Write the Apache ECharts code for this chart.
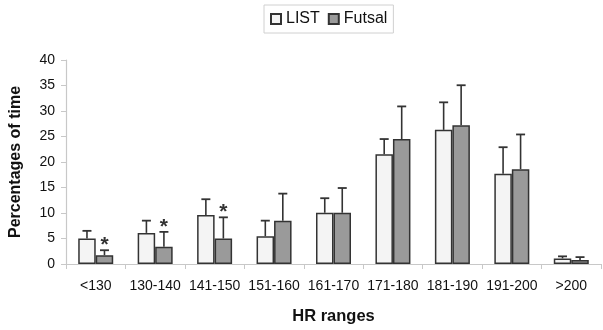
<!DOCTYPE html>
<html>
<head>
<meta charset="utf-8">
<script src="https://cdn.jsdelivr.net/npm/echarts@6/dist/echarts.min.js"></script>
<style>html,body{margin:0;padding:0;background:#fff;}#c{width:603px;height:330px;}</style>
</head>
<body>
<div id="c"></div>
<script>
var categories = ['<130','130-140','141-150','151-160','161-170','171-180','181-190','191-200','>200'];
var listValues = [5.0, 6.1, 9.6, 5.45, 10.05, 21.5, 26.3, 17.7, 1.1];
var listErrTop = [6.5, 8.5, 12.7, 8.5, 12.9, 24.5, 31.7, 22.9, 1.5];
var futsalValues = [1.73, 3.4, 5.0, 8.5, 10.05, 24.5, 27.2, 18.6, 0.8];
var futsalErrTop = [2.7, 6.3, 9.15, 13.8, 14.9, 30.9, 35.05, 25.4, 1.35];
var futsalStars = [1, 1, 1, 0, 0, 0, 0, 0, 0];
var yTicks = [0, 5, 10, 15, 20, 25, 30, 35, 40];

var BW = 17.5;
var FONT = 'Liberation Sans, Arial, sans-serif';

function errSeries(name, tops, shift, stars) {
  return {
    type: 'custom',
    name: name + ' err',
    z: 5,
    silent: true,
    data: tops.map(function (v, i) { return [i, v, stars ? stars[i] : 0]; }),
    renderItem: function (params, api) {
      var i = api.value(0);
      var top = api.coord([i, api.value(1)]);
      var x = top[0] + shift;
      var base = api.coord([i, (shift < 0 ? listValues : futsalValues)[i]]);
      var children = [
        { type: 'line', shape: { x1: x, y1: base[1], x2: x, y2: top[1] }, style: { stroke: '#333', lineWidth: 1.6 } },
        { type: 'line', shape: { x1: x - 4.5, y1: top[1], x2: x + 4.5, y2: top[1] }, style: { stroke: '#333', lineWidth: 1.8 } }
      ];
      if (api.value(2)) {
        children.push({ type: 'text', style: { text: '*', x: x, y: top[1] - 5, textAlign: 'center', textVerticalAlign: 'middle', font: 'bold 21px ' + FONT, fill: '#333' } });
      }
      return { type: 'group', children: children };
    }
  };
}

var chart = echarts.init(document.getElementById('c'), null, { renderer: 'canvas' });
chart.setOption({
  animation: false,
  backgroundColor: '#fff',
  textStyle: { fontFamily: FONT },
  legend: {
    data: ['LIST', 'Futsal'],
    left: 264, top: 5,
    padding: [6, 6, 6, 6],
    borderColor: '#d0d0d0', borderWidth: 1,
    itemWidth: 10, itemHeight: 10, itemGap: 8,
    icon: 'rect',
    textStyle: { fontSize: 16, color: '#111', fontFamily: FONT }
  },
  grid: { left: 58, right: 2, top: 60, bottom: 62, containLabel: false },
  xAxis: {
    type: 'category',
    data: categories,
    name: 'HR ranges',
    nameLocation: 'middle',
    nameGap: 44,
    nameTextStyle: { fontSize: 16.5, fontWeight: 'bold', color: '#111', fontFamily: FONT },
    axisLine: { lineStyle: { color: '#c8c8c8', width: 1.2 } },
    axisTick: { show: true, length: 5, lineStyle: { color: '#c8c8c8' } },
    axisLabel: { interval: 0, fontSize: 14, color: '#111', margin: 15, fontFamily: FONT }
  },
  yAxis: {
    type: 'value',
    min: 0, max: 40, interval: 5,
    name: 'Percentages of time',
    nameLocation: 'middle',
    nameGap: 42,
    nameTextStyle: { fontSize: 16, fontWeight: 'bold', color: '#111', fontFamily: FONT },
    axisLine: { show: true, lineStyle: { color: '#c8c8c8', width: 1.2 } },
    axisTick: { show: true, length: 5, lineStyle: { color: '#c8c8c8' } },
    splitLine: { show: false },
    axisLabel: { fontSize: 14, color: '#111', margin: 11, fontFamily: FONT,
      formatter: function (v) { return yTicks.indexOf(v) >= 0 ? String(v) : ''; } }
  },
  series: [
    { type: 'bar', name: 'LIST', data: listValues, barWidth: BW, barGap: 0,
      itemStyle: { color: '#f4f4f4', borderColor: '#333', borderWidth: 1.5 } },
    { type: 'bar', name: 'Futsal', data: futsalValues, barWidth: BW, barGap: 0,
      itemStyle: { color: '#9a9a9a', borderColor: '#333', borderWidth: 1.5 } },
    errSeries('LIST', listErrTop, -BW / 2, null),
    errSeries('Futsal', futsalErrTop, BW / 2, futsalStars)
  ]
});
</script>
</body>
</html>
